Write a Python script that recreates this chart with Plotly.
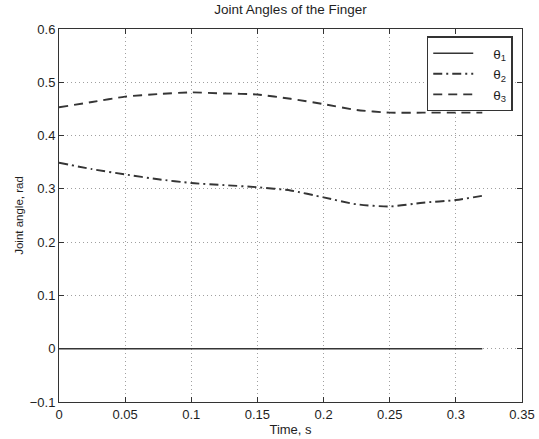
import plotly.graph_objects as go

time_s = [0, 0.025, 0.05, 0.075, 0.1, 0.125, 0.15, 0.175, 0.2, 0.225, 0.25, 0.275, 0.3, 0.32]
theta1 = [0.0, 0.0, 0.0, 0.0, 0.0, 0.0, 0.0, 0.0, 0.0, 0.0, 0.0, 0.0, 0.0, 0.0]
theta2 = [0.349, 0.337, 0.327, 0.318, 0.311, 0.307, 0.303, 0.297, 0.284, 0.271, 0.267, 0.274, 0.279, 0.287]
theta3 = [0.453, 0.463, 0.473, 0.478, 0.481, 0.479, 0.477, 0.469, 0.459, 0.448, 0.443, 0.443, 0.443, 0.443]

x_ticks = [0, 0.05, 0.1, 0.15, 0.2, 0.25, 0.3, 0.35]
x_labels = ["0", "0.05", "0.1", "0.15", "0.2", "0.25", "0.3", "0.35"]
y_ticks = [-0.1, 0, 0.1, 0.2, 0.3, 0.4, 0.5, 0.6]
y_labels = ["\u22120.1", "0", "0.1", "0.2", "0.3", "0.4", "0.5", "0.6"]

line_color = "#353535"
text_color = "#1e1e1e"
font_family = "Liberation Sans, Arial, sans-serif"
nb = "\u00a0"

fig = go.Figure()
fig.add_trace(go.Scatter(x=time_s, y=theta1, mode="lines", name=nb * 4 + "\u03b8<sub>1</sub>",
                         line=dict(color=line_color, width=1.6, dash="solid")))
fig.add_trace(go.Scatter(x=time_s, y=theta2, mode="lines", name=nb * 4 + "\u03b8<sub>2</sub>",
                         line=dict(color=line_color, width=1.9, dash="9px,4px,2px,4px",
                                   shape="spline", smoothing=0.6)))
fig.add_trace(go.Scatter(x=time_s, y=theta3, mode="lines", name=nb * 4 + "\u03b8<sub>3</sub>",
                         line=dict(color=line_color, width=1.9, dash="9px,6px",
                                   shape="spline", smoothing=0.6)))

axis_common = dict(
    showline=True, linecolor="#333", linewidth=1, mirror="ticks",
    ticks="inside", ticklen=5, tickcolor="#333",
    showgrid=True, gridcolor="#a0a0a0", griddash="1px,3px", gridwidth=1,
    zeroline=False, automargin=False,
    tickfont=dict(family=font_family, size=13, color=text_color),
)

fig.update_layout(
    width=539, height=439,
    margin=dict(l=59, r=17, t=29, b=37),
    paper_bgcolor="white", plot_bgcolor="white",
    font=dict(family=font_family, size=12, color=text_color),
    title=dict(text="Joint Angles of the Finger", x=0.5, xanchor="center", y=0.99, yanchor="top",
               xref="paper", font=dict(family=font_family, size=13.5, color=text_color)),
    xaxis=dict(range=[0, 0.35], tickvals=x_ticks, ticktext=x_labels,
               title=dict(text="Time, s", font=dict(family=font_family, size=13, color=text_color), standoff=1),
               **axis_common),
    yaxis=dict(range=[-0.1, 0.6], tickvals=y_ticks, ticktext=y_labels,
               title=dict(text="Joint angle, rad", font=dict(family=font_family, size=11.5, color=text_color), standoff=3),
               **axis_common),
    legend=dict(x=0.98, xanchor="right", y=0.98, yanchor="top",
                bgcolor="white", bordercolor="#333", borderwidth=1.5,
                font=dict(family=font_family, size=13.5, color=text_color),
                itemwidth=40, tracegroupgap=0),
    showlegend=True,
)

fig.write_html("out.html", config={"displayModeBar": False},
               post_script="document.body.style.margin='0';document.body.style.padding='0';")
